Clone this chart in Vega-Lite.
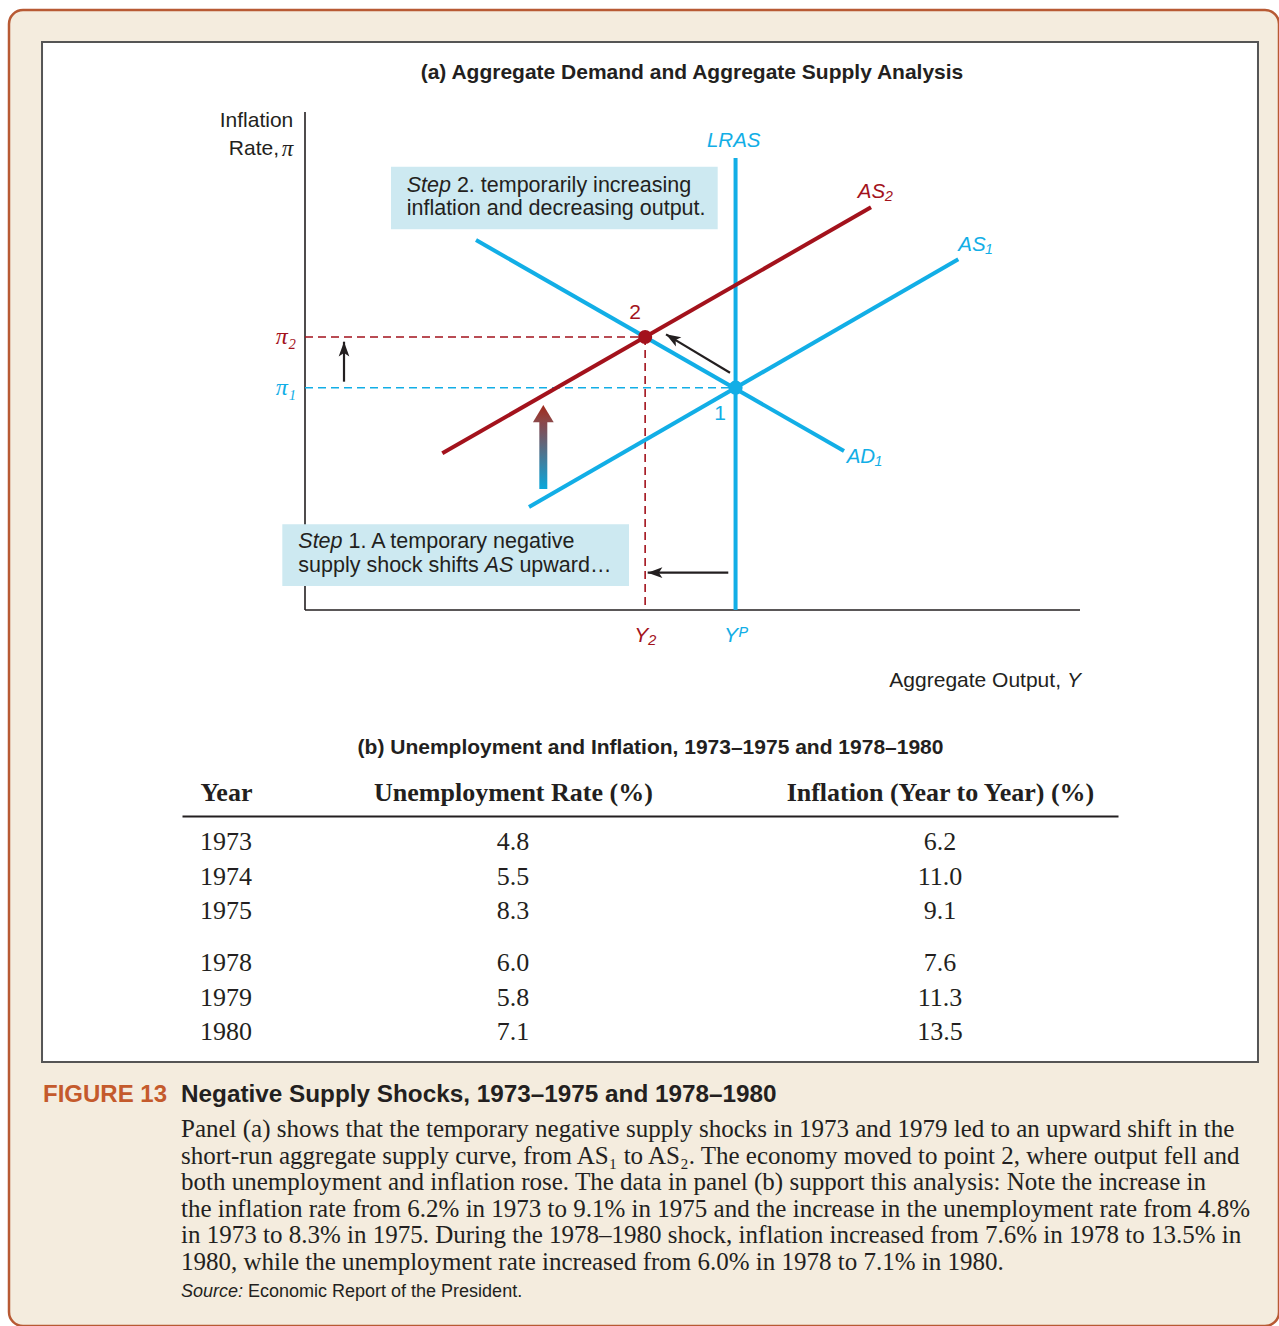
{
  "$schema": "https://vega.github.io/schema/vega-lite/v6.json",
  "width": 1270,
  "height": 1316,
  "autosize": {"type": "none"},
  "padding": {"left": 9, "top": 10, "right": 0, "bottom": 0},
  "background": "#ffffff",
  "config": {
    "view": {"fill": "#f4ecde", "stroke": "#b85a34", "strokeWidth": 2.5, "cornerRadius": 14},
    "text": {"font": "Liberation Sans", "color": "#231f20"}
  },
  "datasets": {
    "frame": [{"Y": -61.08, "pi": 12.774, "Y_end": 221.34, "pi_end": -10.165}],
    "axisLines": [
      {"axis": "inflation", "Y": 0, "pi": 0, "Y_end": 0, "pi_end": 11.2},
      {"axis": "output", "Y": 0, "pi": 0, "Y_end": 180, "pi_end": 0}
    ],
    "notes": [
      {"note": "Step 1", "Y": -5.27, "pi": 1.927, "Y_end": 75.25, "pi_end": 0.54},
      {"note": "Step 2", "Y": 19.97, "pi": 9.97, "Y_end": 95.85, "pi_end": 8.562}
    ],
    "noteText": [
      {"note": "Step 2", "text": "2. temporarily increasing", "Y": 35.28, "pi": 9.545},
      {"note": "Step 2", "text": "inflation and decreasing output.", "Y": 23.62, "pi": 9.018},
      {"note": "Step 1", "text": "1. A temporary negative", "Y": 10.1, "pi": 1.523},
      {"note": "Step 1", "text": "supply shock shifts", "Y": -1.556, "pi": 0.983},
      {"note": "Step 1", "text": "upward…", "Y": 49.8, "pi": 0.983}
    ],
    "noteTerms": [
      {"note": "Step 2", "text": "Step", "Y": 23.62, "pi": 9.545},
      {"note": "Step 1", "text": "Step", "Y": -1.556, "pi": 1.523},
      {"note": "Step 1", "text": "AS", "Y": 41.74, "pi": 0.983}
    ],
    "guides": [
      {"guide": "π₁", "state": "initial", "Y": 0, "pi": 5, "Y_end": 100, "pi_end": 5},
      {"guide": "π₂", "state": "shocked", "Y": 0, "pi": 6.14, "Y_end": 79, "pi_end": 6.14},
      {"guide": "Y₂", "state": "shocked", "Y": 79, "pi": 6.14, "Y_end": 79, "pi_end": 0}
    ],
    "curves": [
      {"curve": "LRAS", "state": "initial", "Y": 100, "pi": 0, "Y_end": 100, "pi_end": 10.166},
      {"curve": "AD₁", "state": "initial", "Y": 39.72, "pi": 8.32, "Y_end": 125.19, "pi_end": 3.576},
      {"curve": "AS₁", "state": "initial", "Y": 52.03, "pi": 2.316, "Y_end": 151.73, "pi_end": 7.887},
      {"curve": "AS₂", "state": "shocked", "Y": 31.89, "pi": 3.524, "Y_end": 131.46, "pi_end": 9.057}
    ],
    "curveLabels": [
      {"text": "LRAS", "state": "initial", "Y": 93.36, "pi": 10.555},
      {"text": "AS₂", "state": "shocked", "Y": 128.37, "pi": 9.408},
      {"text": "AS₁", "state": "initial", "Y": 151.73, "pi": 8.209},
      {"text": "AD₁", "state": "initial", "Y": 125.81, "pi": 3.434}
    ],
    "points": [
      {"point": "1", "state": "initial", "Y": 100, "pi": 5, "Y_label": "Yᴾ", "num_Y": 96.39, "num_pi": 4.408},
      {"point": "2", "state": "shocked", "Y": 79, "pi": 6.14, "Y_label": "Y₂", "num_Y": 76.64, "num_pi": 6.686}
    ],
    "arrows": [
      {"arrow": "economy moves to point 2", "Y": 98.71, "pi": 5.337, "Y_end": 83.85, "pi_end": 6.2},
      {"arrow": "inflation rises", "Y": 9.06, "pi": 5.135, "Y_end": 9.06, "pi_end": 6.034},
      {"arrow": "output falls", "Y": 98.31, "pi": 0.839, "Y_end": 79.59, "pi_end": 0.839}
    ],
    "supplyShift": [{"Y": 55.35, "pi": 2.721, "pi_end": 4.25, "tip": 4.61}],
    "axisTitles": [
      {"text": "Inflation", "Y": -2.72, "pi": 11.004},
      {"text": "Rate,", "Y": -6.04, "pi": 10.361},
      {"text": "Aggregate Output,", "Y": 175.58, "pi": -1.597}
    ],
    "axisSymbols": [
      {"axis": "inflation", "text": "π", "Y": -2.72, "pi": 10.361},
      {"axis": "output", "text": "Y", "Y": 180.23, "pi": -1.597}
    ],
    "panelTitle": [{"text": "(a) Aggregate Demand and Aggregate Supply Analysis", "Y": 89.88, "pi": 12.077}],
    "table": [
      {"Year": 1973, "Unemployment": 4.8, "Inflation": 6.2},
      {"Year": 1974, "Unemployment": 5.5, "Inflation": 11.0},
      {"Year": 1975, "Unemployment": 8.3, "Inflation": 9.1},
      {"Year": 1978, "Unemployment": 6.0, "Inflation": 7.6},
      {"Year": 1979, "Unemployment": 5.8, "Inflation": 11.3},
      {"Year": 1980, "Unemployment": 7.1, "Inflation": 13.5}
    ],
    "caption": [
      {"line": 0, "part": "figure", "text": "FIGURE 13"},
      {"line": 0, "part": "title", "text": "Negative Supply Shocks, 1973–1975 and 1978–1980"},
      {"line": 1, "part": "body", "text": "Panel (a) shows that the temporary negative supply shocks in 1973 and 1979 led to an upward shift in the"},
      {"line": 2, "part": "body", "text": "short-run aggregate supply curve, from AS₁ to AS₂. The economy moved to point 2, where output fell and"},
      {"line": 3, "part": "body", "text": "both unemployment and inflation rose. The data in panel (b) support this analysis: Note the increase in"},
      {"line": 4, "part": "body", "text": "the inflation rate from 6.2% in 1973 to 9.1% in 1975 and the increase in the unemployment rate from 4.8%"},
      {"line": 5, "part": "body", "text": "in 1973 to 8.3% in 1975. During the 1978–1980 shock, inflation increased from 7.6% in 1978 to 13.5% in"},
      {"line": 6, "part": "body", "text": "1980, while the unemployment rate increased from 6.0% in 1978 to 7.1% in 1980."},
      {"line": 7, "part": "source label", "text": "Source:"},
      {"line": 7, "part": "source", "text": "Economic Report of the President."}
    ]
  },
  "layer": [
    {
      "layer": [
        {
          "data": {"name": "frame"},
          "mark": {"type": "rect", "fill": "#ffffff", "stroke": "#555555", "strokeWidth": 2},
          "encoding": {
            "x": {"field": "Y", "type": "quantitative", "scale": {"domain": [0, 180], "range": [296, 1071], "nice": false, "zero": false, "padding": 0}, "axis": null},
            "x2": {"field": "Y_end"},
            "y": {"field": "pi", "type": "quantitative", "scale": {"domain": [0, 11.2], "range": [600, 102], "nice": false, "zero": false, "padding": 0}, "axis": null},
            "y2": {"field": "pi_end"}
          }
        },
        {
          "data": {"name": "axisLines"},
          "mark": {"type": "rule", "color": "#231f20", "strokeWidth": 1.6},
          "encoding": {
            "x": {"field": "Y", "type": "quantitative", "scale": {"domain": [0, 180], "range": [296, 1071], "nice": false, "zero": false, "padding": 0}, "axis": null},
            "x2": {"field": "Y_end"},
            "y": {"field": "pi", "type": "quantitative", "scale": {"domain": [0, 11.2], "range": [600, 102], "nice": false, "zero": false, "padding": 0}, "axis": null},
            "y2": {"field": "pi_end"}
          }
        },
        {
          "data": {"name": "notes"},
          "mark": {"type": "rect", "fill": "#cde9f1"},
          "encoding": {
            "x": {"field": "Y", "type": "quantitative", "scale": {"domain": [0, 180], "range": [296, 1071], "nice": false, "zero": false, "padding": 0}, "axis": null},
            "x2": {"field": "Y_end"},
            "y": {"field": "pi", "type": "quantitative", "scale": {"domain": [0, 11.2], "range": [600, 102], "nice": false, "zero": false, "padding": 0}, "axis": null},
            "y2": {"field": "pi_end"}
          }
        },
        {
          "data": {"name": "guides"},
          "mark": {"type": "rule", "strokeDash": [8, 5], "strokeWidth": 1.6},
          "encoding": {
            "x": {"field": "Y", "type": "quantitative", "scale": {"domain": [0, 180], "range": [296, 1071], "nice": false, "zero": false, "padding": 0}, "axis": null},
            "x2": {"field": "Y_end"},
            "y": {"field": "pi", "type": "quantitative", "scale": {"domain": [0, 11.2], "range": [600, 102], "nice": false, "zero": false, "padding": 0}, "axis": null},
            "y2": {"field": "pi_end"},
            "color": {"field": "state", "type": "nominal", "scale": {"domain": ["initial", "shocked"], "range": ["#12aee6", "#a3121c"]}, "legend": null}
          }
        },
        {
          "data": {"name": "curves"},
          "mark": {"type": "rule", "strokeWidth": 4},
          "encoding": {
            "x": {"field": "Y", "type": "quantitative", "scale": {"domain": [0, 180], "range": [296, 1071], "nice": false, "zero": false, "padding": 0}, "axis": null},
            "x2": {"field": "Y_end"},
            "y": {"field": "pi", "type": "quantitative", "scale": {"domain": [0, 11.2], "range": [600, 102], "nice": false, "zero": false, "padding": 0}, "axis": null},
            "y2": {"field": "pi_end"},
            "color": {"field": "state", "type": "nominal", "scale": {"domain": ["initial", "shocked"], "range": ["#12aee6", "#a3121c"]}, "legend": null}
          }
        },
        {
          "data": {"name": "points"},
          "mark": {"type": "point", "shape": "circle", "filled": true, "size": 200, "opacity": 1},
          "encoding": {
            "x": {"field": "Y", "type": "quantitative", "scale": {"domain": [0, 180], "range": [296, 1071], "nice": false, "zero": false, "padding": 0}, "axis": null},
            "y": {"field": "pi", "type": "quantitative", "scale": {"domain": [0, 11.2], "range": [600, 102], "nice": false, "zero": false, "padding": 0}, "axis": null},
            "color": {"field": "state", "type": "nominal", "scale": {"domain": ["initial", "shocked"], "range": ["#12aee6", "#a3121c"]}, "legend": null}
          }
        },
        {
          "data": {"name": "arrows"},
          "mark": {"type": "rule", "color": "#231f20", "strokeWidth": 2.2},
          "encoding": {
            "x": {"field": "Y", "type": "quantitative", "scale": {"domain": [0, 180], "range": [296, 1071], "nice": false, "zero": false, "padding": 0}, "axis": null},
            "x2": {"field": "Y_end"},
            "y": {"field": "pi", "type": "quantitative", "scale": {"domain": [0, 11.2], "range": [600, 102], "nice": false, "zero": false, "padding": 0}, "axis": null},
            "y2": {"field": "pi_end"}
          }
        },
        {
          "data": {"name": "arrows"},
          "transform": [{"filter": "datum.arrow === 'economy moves to point 2'"}],
          "mark": {"type": "point", "shape": "M0,0L-0.38,1.05L0,0.8L0.38,1.05Z", "filled": true, "size": 784, "angle": 301, "color": "#231f20", "opacity": 1},
          "encoding": {
            "x": {"field": "Y_end", "type": "quantitative", "scale": {"domain": [0, 180], "range": [296, 1071], "nice": false, "zero": false, "padding": 0}, "axis": null},
            "y": {"field": "pi_end", "type": "quantitative", "scale": {"domain": [0, 11.2], "range": [600, 102], "nice": false, "zero": false, "padding": 0}, "axis": null}
          }
        },
        {
          "data": {"name": "arrows"},
          "transform": [{"filter": "datum.arrow === 'inflation rises'"}],
          "mark": {"type": "point", "shape": "M0,0L-0.38,1.05L0,0.8L0.38,1.05Z", "filled": true, "size": 784, "angle": 0, "color": "#231f20", "opacity": 1},
          "encoding": {
            "x": {"field": "Y_end", "type": "quantitative", "scale": {"domain": [0, 180], "range": [296, 1071], "nice": false, "zero": false, "padding": 0}, "axis": null},
            "y": {"field": "pi_end", "type": "quantitative", "scale": {"domain": [0, 11.2], "range": [600, 102], "nice": false, "zero": false, "padding": 0}, "axis": null}
          }
        },
        {
          "data": {"name": "arrows"},
          "transform": [{"filter": "datum.arrow === 'output falls'"}],
          "mark": {"type": "point", "shape": "M0,0L-0.38,1.05L0,0.8L0.38,1.05Z", "filled": true, "size": 784, "angle": 270, "color": "#231f20", "opacity": 1},
          "encoding": {
            "x": {"field": "Y_end", "type": "quantitative", "scale": {"domain": [0, 180], "range": [296, 1071], "nice": false, "zero": false, "padding": 0}, "axis": null},
            "y": {"field": "pi_end", "type": "quantitative", "scale": {"domain": [0, 11.2], "range": [600, 102], "nice": false, "zero": false, "padding": 0}, "axis": null}
          }
        },
        {
          "data": {"name": "supplyShift"},
          "mark": {"type": "bar", "size": 8, "color": {"gradient": "linear", "x1": 0, "y1": 1, "x2": 0, "y2": 0, "stops": [{"offset": 0, "color": "#0aa8dc"}, {"offset": 1, "color": "#8c4448"}]}},
          "encoding": {
            "x": {"field": "Y", "type": "quantitative", "scale": {"domain": [0, 180], "range": [296, 1071], "nice": false, "zero": false, "padding": 0}, "axis": null},
            "y": {"field": "pi", "type": "quantitative", "scale": {"domain": [0, 11.2], "range": [600, 102], "nice": false, "zero": false, "padding": 0}, "axis": null},
            "y2": {"field": "pi_end"}
          }
        },
        {
          "data": {"name": "supplyShift"},
          "mark": {"type": "point", "shape": "M0,0L-0.6,1L0.6,1Z", "filled": true, "size": 1197, "opacity": 1, "fill": {"gradient": "linear", "x1": 0, "y1": 1, "x2": 0, "y2": 0, "stops": [{"offset": 0, "color": "#8b4a4b"}, {"offset": 1, "color": "#a2281a"}]}},
          "encoding": {
            "x": {"field": "Y", "type": "quantitative", "scale": {"domain": [0, 180], "range": [296, 1071], "nice": false, "zero": false, "padding": 0}, "axis": null},
            "y": {"field": "tip", "type": "quantitative", "scale": {"domain": [0, 11.2], "range": [600, 102], "nice": false, "zero": false, "padding": 0}, "axis": null}
          }
        },
        {
          "data": {"name": "curveLabels"},
          "mark": {"type": "text", "align": "left", "baseline": "middle", "fontSize": 20.5, "fontStyle": "italic"},
          "encoding": {
            "x": {"field": "Y", "type": "quantitative", "scale": {"domain": [0, 180], "range": [296, 1071], "nice": false, "zero": false, "padding": 0}, "axis": null},
            "y": {"field": "pi", "type": "quantitative", "scale": {"domain": [0, 11.2], "range": [600, 102], "nice": false, "zero": false, "padding": 0}, "axis": null},
            "text": {"field": "text"},
            "color": {"field": "state", "type": "nominal", "scale": {"domain": ["initial", "shocked"], "range": ["#12aee6", "#a3121c"]}, "legend": null}
          }
        },
        {
          "data": {"name": "points"},
          "mark": {"type": "text", "align": "center", "baseline": "middle", "fontSize": 21},
          "encoding": {
            "x": {"field": "num_Y", "type": "quantitative", "scale": {"domain": [0, 180], "range": [296, 1071], "nice": false, "zero": false, "padding": 0}, "axis": null},
            "y": {"field": "num_pi", "type": "quantitative", "scale": {"domain": [0, 11.2], "range": [600, 102], "nice": false, "zero": false, "padding": 0}, "axis": null},
            "text": {"field": "point"},
            "color": {"field": "state", "type": "nominal", "scale": {"domain": ["initial", "shocked"], "range": ["#12aee6", "#a3121c"]}, "legend": null}
          }
        },
        {
          "data": {"name": "guides"},
          "transform": [{"filter": "datum.Y === 0"}],
          "mark": {"type": "text", "align": "right", "baseline": "middle", "dx": -9, "font": "Liberation Serif", "fontSize": 24, "fontStyle": "italic"},
          "encoding": {
            "x": {"field": "Y", "type": "quantitative", "scale": {"domain": [0, 180], "range": [296, 1071], "nice": false, "zero": false, "padding": 0}, "axis": null},
            "y": {"field": "pi", "type": "quantitative", "scale": {"domain": [0, 11.2], "range": [600, 102], "nice": false, "zero": false, "padding": 0}, "axis": null},
            "text": {"field": "guide"},
            "color": {"field": "state", "type": "nominal", "scale": {"domain": ["initial", "shocked"], "range": ["#12aee6", "#a3121c"]}, "legend": null}
          }
        },
        {
          "data": {"name": "points"},
          "mark": {"type": "text", "align": "center", "baseline": "middle", "dy": 26, "fontSize": 21, "fontStyle": "italic"},
          "encoding": {
            "x": {"field": "Y", "type": "quantitative", "scale": {"domain": [0, 180], "range": [296, 1071], "nice": false, "zero": false, "padding": 0}, "axis": null},
            "y": {"datum": 0, "type": "quantitative", "scale": {"domain": [0, 11.2], "range": [600, 102], "nice": false, "zero": false, "padding": 0}, "axis": null},
            "text": {"field": "Y_label"},
            "color": {"field": "state", "type": "nominal", "scale": {"domain": ["initial", "shocked"], "range": ["#12aee6", "#a3121c"]}, "legend": null}
          }
        },
        {
          "data": {"name": "noteText"},
          "mark": {"type": "text", "align": "left", "baseline": "middle", "fontSize": 21.5},
          "encoding": {
            "x": {"field": "Y", "type": "quantitative", "scale": {"domain": [0, 180], "range": [296, 1071], "nice": false, "zero": false, "padding": 0}, "axis": null},
            "y": {"field": "pi", "type": "quantitative", "scale": {"domain": [0, 11.2], "range": [600, 102], "nice": false, "zero": false, "padding": 0}, "axis": null},
            "text": {"field": "text"}
          }
        },
        {
          "data": {"name": "noteTerms"},
          "mark": {"type": "text", "align": "left", "baseline": "middle", "fontSize": 21.5, "fontStyle": "italic"},
          "encoding": {
            "x": {"field": "Y", "type": "quantitative", "scale": {"domain": [0, 180], "range": [296, 1071], "nice": false, "zero": false, "padding": 0}, "axis": null},
            "y": {"field": "pi", "type": "quantitative", "scale": {"domain": [0, 11.2], "range": [600, 102], "nice": false, "zero": false, "padding": 0}, "axis": null},
            "text": {"field": "text"}
          }
        },
        {
          "data": {"name": "axisTitles"},
          "mark": {"type": "text", "align": "right", "baseline": "middle", "fontSize": 21},
          "encoding": {
            "x": {"field": "Y", "type": "quantitative", "scale": {"domain": [0, 180], "range": [296, 1071], "nice": false, "zero": false, "padding": 0}, "axis": null},
            "y": {"field": "pi", "type": "quantitative", "scale": {"domain": [0, 11.2], "range": [600, 102], "nice": false, "zero": false, "padding": 0}, "axis": null},
            "text": {"field": "text"}
          }
        },
        {
          "data": {"name": "axisSymbols"},
          "transform": [{"filter": "datum.axis === 'inflation'"}],
          "mark": {"type": "text", "align": "right", "baseline": "middle", "font": "Liberation Serif", "fontSize": 23, "fontStyle": "italic"},
          "encoding": {
            "x": {"field": "Y", "type": "quantitative", "scale": {"domain": [0, 180], "range": [296, 1071], "nice": false, "zero": false, "padding": 0}, "axis": null},
            "y": {"field": "pi", "type": "quantitative", "scale": {"domain": [0, 11.2], "range": [600, 102], "nice": false, "zero": false, "padding": 0}, "axis": null},
            "text": {"field": "text"}
          }
        },
        {
          "data": {"name": "axisSymbols"},
          "transform": [{"filter": "datum.axis === 'output'"}],
          "mark": {"type": "text", "align": "right", "baseline": "middle", "fontSize": 21, "fontStyle": "italic"},
          "encoding": {
            "x": {"field": "Y", "type": "quantitative", "scale": {"domain": [0, 180], "range": [296, 1071], "nice": false, "zero": false, "padding": 0}, "axis": null},
            "y": {"field": "pi", "type": "quantitative", "scale": {"domain": [0, 11.2], "range": [600, 102], "nice": false, "zero": false, "padding": 0}, "axis": null},
            "text": {"field": "text"}
          }
        },
        {
          "data": {"name": "panelTitle"},
          "mark": {"type": "text", "align": "center", "baseline": "middle", "fontSize": 21, "fontWeight": "bold"},
          "encoding": {
            "x": {"field": "Y", "type": "quantitative", "scale": {"domain": [0, 180], "range": [296, 1071], "nice": false, "zero": false, "padding": 0}, "axis": null},
            "y": {"field": "pi", "type": "quantitative", "scale": {"domain": [0, 11.2], "range": [600, 102], "nice": false, "zero": false, "padding": 0}, "axis": null},
            "text": {"field": "text"}
          }
        }
      ]
    },
    {
      "data": {"name": "table"},
      "layer": [
        {
          "mark": {"type": "text", "align": "center", "baseline": "middle", "font": "Liberation Serif", "fontSize": 26},
          "encoding": {
            "x": {
              "datum": "Year", "type": "nominal",
              "scale": {"type": "point", "domain": ["Year", "Unemployment Rate (%)", "Inflation (Year to Year) (%)"], "range": [173, 1109], "padding": 0.311, "align": 0.198},
              "axis": {
                "orient": "top", "offset": -806, "zindex": 1, "ticks": false, "tickSize": 0, "grid": false,
                "domain": true, "domainColor": "#231f20", "domainWidth": 2,
                "labelFont": "Liberation Serif", "labelFontWeight": "bold", "labelFontSize": 26, "labelColor": "#231f20",
                "labelBaseline": "alphabetic", "labelPadding": 16, "labelAngle": 0, "labelLimit": 0, "labelOverlap": false, "labelBound": false, "labelFlush": false,
                "labelOffset": {"expr": "datum.value === 'Unemployment Rate (%)' ? -70 : 0"},
                "title": "(b) Unemployment and Inflation, 1973–1975 and 1978–1980",
                "titleFont": "Liberation Sans", "titleFontWeight": "bold", "titleFontSize": 21, "titleColor": "#231f20",
                "titleBaseline": "alphabetic", "titleY": -63
              }
            },
            "y": {"field": "Year", "type": "quantitative", "scale": {"domain": [1973, 1975, 1978, 1980], "range": [832, 901, 953, 1022], "nice": false, "zero": false}, "axis": null},
            "text": {"field": "Year", "type": "ordinal"}
          }
        },
        {
          "mark": {"type": "text", "align": "center", "baseline": "middle", "font": "Liberation Serif", "fontSize": 26, "dx": -70},
          "encoding": {
            "x": {"datum": "Unemployment Rate (%)", "type": "nominal", "scale": {"type": "point", "domain": ["Year", "Unemployment Rate (%)", "Inflation (Year to Year) (%)"], "range": [173, 1109], "padding": 0.311, "align": 0.198}},
            "y": {"field": "Year", "type": "quantitative", "scale": {"domain": [1973, 1975, 1978, 1980], "range": [832, 901, 953, 1022], "nice": false, "zero": false}, "axis": null},
            "text": {"field": "Unemployment", "type": "quantitative", "format": ".1f"}
          }
        },
        {
          "mark": {"type": "text", "align": "center", "baseline": "middle", "font": "Liberation Serif", "fontSize": 26},
          "encoding": {
            "x": {"datum": "Inflation (Year to Year) (%)", "type": "nominal", "scale": {"type": "point", "domain": ["Year", "Unemployment Rate (%)", "Inflation (Year to Year) (%)"], "range": [173, 1109], "padding": 0.311, "align": 0.198}},
            "y": {"field": "Year", "type": "quantitative", "scale": {"domain": [1973, 1975, 1978, 1980], "range": [832, 901, 953, 1022], "nice": false, "zero": false}, "axis": null},
            "text": {"field": "Inflation", "type": "quantitative", "format": ".1f"}
          }
        }
      ]
    },
    {
      "data": {"name": "caption"},
      "layer": [
        {
          "transform": [{"filter": "datum.part === 'figure'"}],
          "mark": {"type": "text", "align": "left", "baseline": "middle", "fontSize": 24, "fontWeight": "bold", "color": "#c45a2c"},
          "encoding": {
            "x": {"datum": "figure", "type": "nominal", "scale": {"type": "point", "domain": ["figure", "caption"], "range": [34, 172], "padding": 0}, "axis": null},
            "y": {"field": "line", "type": "quantitative", "scale": {"domain": [0, 1, 6, 7], "range": [1085, 1119, 1252, 1282], "nice": false, "zero": false}, "axis": null},
            "text": {"field": "text"}
          }
        },
        {
          "transform": [{"filter": "datum.part === 'title'"}],
          "mark": {"type": "text", "align": "left", "baseline": "middle", "fontSize": 24.3, "fontWeight": "bold", "color": "#231f20"},
          "encoding": {
            "x": {"datum": "caption", "type": "nominal", "scale": {"type": "point", "domain": ["figure", "caption"], "range": [34, 172], "padding": 0}, "axis": null},
            "y": {"field": "line", "type": "quantitative", "scale": {"domain": [0, 1, 6, 7], "range": [1085, 1119, 1252, 1282], "nice": false, "zero": false}, "axis": null},
            "text": {"field": "text"}
          }
        },
        {
          "transform": [{"filter": "datum.part === 'body'"}],
          "mark": {"type": "text", "align": "left", "baseline": "middle", "font": "Liberation Serif", "fontSize": 25, "color": "#231f20"},
          "encoding": {
            "x": {"datum": "caption", "type": "nominal", "scale": {"type": "point", "domain": ["figure", "caption"], "range": [34, 172], "padding": 0}, "axis": null},
            "y": {"field": "line", "type": "quantitative", "scale": {"domain": [0, 1, 6, 7], "range": [1085, 1119, 1252, 1282], "nice": false, "zero": false}, "axis": null},
            "text": {"field": "text"}
          }
        },
        {
          "transform": [{"filter": "datum.part === 'source label'"}],
          "mark": {"type": "text", "align": "left", "baseline": "middle", "fontSize": 18, "fontStyle": "italic", "color": "#231f20"},
          "encoding": {
            "x": {"datum": "caption", "type": "nominal", "scale": {"type": "point", "domain": ["figure", "caption"], "range": [34, 172], "padding": 0}, "axis": null},
            "y": {"field": "line", "type": "quantitative", "scale": {"domain": [0, 1, 6, 7], "range": [1085, 1119, 1252, 1282], "nice": false, "zero": false}, "axis": null},
            "text": {"field": "text"}
          }
        },
        {
          "transform": [{"filter": "datum.part === 'source'"}],
          "mark": {"type": "text", "align": "left", "baseline": "middle", "fontSize": 18, "dx": 67, "color": "#231f20"},
          "encoding": {
            "x": {"datum": "caption", "type": "nominal", "scale": {"type": "point", "domain": ["figure", "caption"], "range": [34, 172], "padding": 0}, "axis": null},
            "y": {"field": "line", "type": "quantitative", "scale": {"domain": [0, 1, 6, 7], "range": [1085, 1119, 1252, 1282], "nice": false, "zero": false}, "axis": null},
            "text": {"field": "text"}
          }
        }
      ]
    }
  ],
  "resolve": {"scale": {"x": "independent", "y": "independent"}}
}
